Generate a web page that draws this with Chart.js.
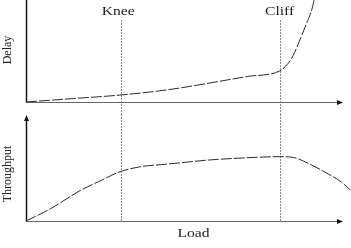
<!DOCTYPE html>
<html>
<head>
<meta charset="utf-8">
<script src="https://cdn.jsdelivr.net/npm/chart.js@4"></script>
<style>
  body { margin: 0; background: #fff; }
  #wrap { position: relative; width: 351px; height: 248px; }
  .panel { position: absolute; left: 0; width: 351px; }
  #top { top: 0; height: 114px; }
  #bottom { top: 114px; height: 134px; }
</style>
</head>
<body>
<div id="wrap">
  <div class="panel" id="top"><canvas id="delayChart" width="351" height="114"></canvas></div>
  <div class="panel" id="bottom"><canvas id="tpChart" width="351" height="134"></canvas></div>
</div>
<script>
// load axis runs 0..100, both value axes 0..10
const markerLoads = [30, 80];
const markerLabels = ["Knee", "Cliff"];

const delayLoads = [0, 15, 30, 45, 60, 70, 80, 82.7, 84.3, 86.4, 88.5, 90.1, 90.9];
const delayValues = [0, 0.34, 0.69, 1.21, 1.97, 2.51, 3.04, 3.79, 4.58, 6.08, 7.7, 9.0, 10];

const tpLoads = [0, 7.6, 17, 23.3, 29.7, 36, 42.3, 47, 57.5, 68, 79.8, 84.3, 89, 95.4, 99.6, 102.2];
const tpValues = [0, 1.13, 2.86, 3.77, 4.65, 5.12, 5.31, 5.44, 5.75, 5.94, 6.07, 6.0, 5.44, 4.43, 3.65, 2.95];

const serif = "'Liberation Serif', 'DejaVu Serif', serif";

function toPoints(xs, ys) {
  return xs.map((v, i) => ({ x: v, y: ys[i] }));
}

// horizontally stretched text like the scanned figure
function wideText(ctx, s, cx, cy) {
  ctx.save();
  ctx.translate(cx, cy);
  ctx.scale(1.3, 1);
  ctx.font = "12px " + serif;
  ctx.fillStyle = "#222";
  ctx.textAlign = "center";
  ctx.textBaseline = "middle";
  ctx.fillText(s, 0, 0);
  ctx.restore();
}

function sideText(ctx, s, cx, cy) {
  ctx.save();
  ctx.translate(cx, cy);
  ctx.rotate(-Math.PI / 2);
  ctx.font = "12px " + serif;
  ctx.fillStyle = "#222";
  ctx.textAlign = "center";
  ctx.textBaseline = "middle";
  ctx.fillText(s, 0, 0);
  ctx.restore();
}

function panelPlugin(opts) {
  return {
    id: "panel",
    beforeDatasetsDraw(chart) {
      const { ctx, scales: { x, y } } = chart;
      const x0 = Math.round(x.getPixelForValue(0)) + 0.5;
      const y0 = Math.round(y.getPixelForValue(0)) + 0.5;
      const xEnd = x.getPixelForValue(100);
      const yTop = y.getPixelForValue(10);
      const markBottom = opts.markBottom === "axis" ? y0 : chart.height;

      ctx.save();
      // knee / cliff lines
      ctx.strokeStyle = "#888";
      ctx.lineWidth = 1;
      ctx.setLineDash([2, 1]);
      markerLoads.forEach((v) => {
        const px = Math.round(x.getPixelForValue(v)) + 0.5;
        ctx.beginPath();
        ctx.moveTo(px, opts.markTop);
        ctx.lineTo(px, markBottom);
        ctx.stroke();
      });
      ctx.setLineDash([]);

      // axes
      ctx.strokeStyle = "#666";
      ctx.lineWidth = 1;
      ctx.beginPath();
      ctx.moveTo(x0, y0);
      ctx.lineTo(xEnd - 4, y0);
      ctx.stroke();
      ctx.strokeStyle = "#111";
      ctx.lineWidth = 1.5;
      ctx.beginPath();
      ctx.moveTo(x0, y0);
      ctx.lineTo(x0, opts.upArrow ? yTop + 4 : 0);
      ctx.stroke();

      // arrow heads
      ctx.fillStyle = "#111";
      ctx.beginPath();
      ctx.moveTo(xEnd, y0);
      ctx.lineTo(xEnd - 6, y0 - 2.5);
      ctx.lineTo(xEnd - 6, y0 + 2.5);
      ctx.closePath();
      ctx.fill();
      if (opts.upArrow) {
        ctx.beginPath();
        ctx.moveTo(x0, yTop);
        ctx.lineTo(x0 - 2.5, yTop + 6);
        ctx.lineTo(x0 + 2.5, yTop + 6);
        ctx.closePath();
        ctx.fill();
      }
      ctx.restore();
    },
    afterDraw(chart) {
      const { ctx, scales: { x } } = chart;
      if (opts.showMarkers) {
        markerLoads.forEach((v, i) => {
          const dx = i === 0 ? -3 : 0;
          wideText(ctx, markerLabels[i], x.getPixelForValue(v) + dx, 12);
        });
      }
      if (opts.xTitle) wideText(ctx, opts.xTitle, 193.5, 119.5);
      sideText(ctx, opts.yTitle, 8, opts.yTitleY);
    }
  };
}

function makeChart(id, xs, ys, padding, opts) {
  return new Chart(document.getElementById(id), {
    type: "line",
    data: {
      datasets: [
        {
          data: toPoints(xs, ys),
          borderColor: "#2a2a2a",
          borderWidth: 1,
          borderDash: [11, 2],
          pointRadius: 0,
          fill: false,
          cubicInterpolationMode: "monotone",
          clip: false,
        },
      ],
    },
    options: {
      responsive: false,
      animation: false,
      events: [],
      layout: { padding: padding },
      plugins: { legend: { display: false }, tooltip: { enabled: false } },
      scales: {
        x: { type: "linear", min: 0, max: 100, display: false },
        y: { min: 0, max: 10, display: false },
      },
    },
    plugins: [panelPlugin(opts)],
  });
}

makeChart("delayChart", delayLoads, delayValues,
  { left: 26, right: 8, top: 0, bottom: 12 },
  { markTop: 20, markBottom: "canvas", showMarkers: true, upArrow: false, yTitle: "Delay", yTitleY: 50 });

makeChart("tpChart", tpLoads, tpValues,
  { left: 26, right: 8, top: 1, bottom: 27 },
  { markTop: 0, markBottom: "axis", showMarkers: false, upArrow: true, xTitle: "Load", yTitle: "Throughput", yTitleY: 60 });
</script>
</body>
</html>
